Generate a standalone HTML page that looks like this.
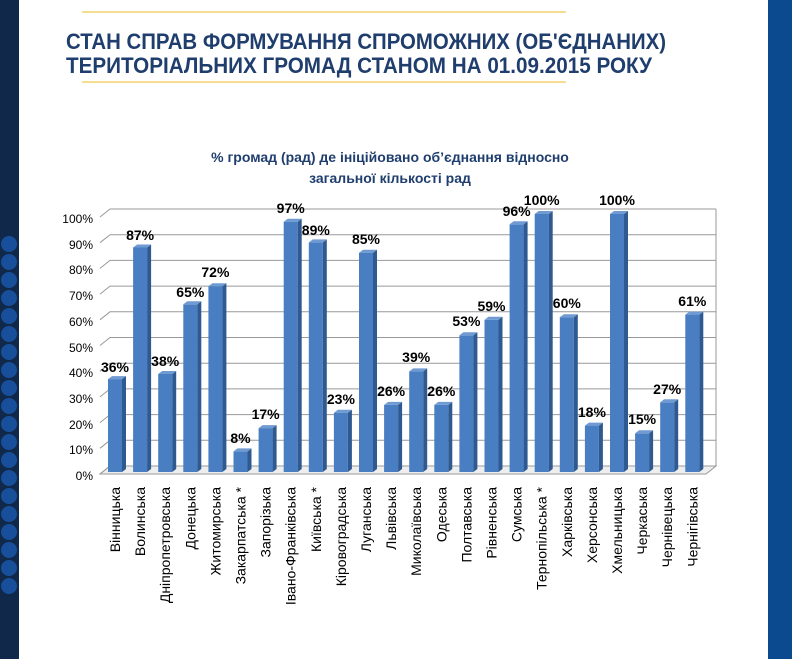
<!DOCTYPE html>
<html><head><meta charset="utf-8"><style>
html,body{margin:0;padding:0;background:#fff}
svg{display:block}
</style></head><body>
<svg width="792" height="659" viewBox="0 0 792 659" xmlns="http://www.w3.org/2000/svg" font-family="'Liberation Sans', sans-serif">
<defs>
<clipPath id="lc"><rect x="0" y="0" width="19" height="659"/></clipPath>
</defs>
<rect width="792" height="659" fill="#fff"/>
<rect x="0" y="0" width="19" height="659" fill="#10284a"/>
<g clip-path="url(#lc)" fill="#1a56a8" opacity="0.85">
<circle cx="9" cy="244" r="8"/><circle cx="9" cy="262" r="8"/><circle cx="9" cy="280" r="8"/><circle cx="9" cy="298" r="8"/><circle cx="9" cy="316" r="8"/><circle cx="9" cy="334" r="8"/><circle cx="9" cy="352" r="8"/><circle cx="9" cy="370" r="8"/><circle cx="9" cy="388" r="8"/><circle cx="9" cy="406" r="8"/><circle cx="9" cy="424" r="8"/><circle cx="9" cy="442" r="8"/><circle cx="9" cy="460" r="8"/><circle cx="9" cy="478" r="8"/><circle cx="9" cy="496" r="8"/><circle cx="9" cy="514" r="8"/><circle cx="9" cy="532" r="8"/><circle cx="9" cy="550" r="8"/><circle cx="9" cy="568" r="8"/><circle cx="9" cy="586" r="8"/>
</g>
<rect x="768" y="0" width="24" height="659" fill="#0b4a8e"/>
<line x1="82" y1="12" x2="566" y2="12" stroke="#f2d36b" stroke-width="1.5"/>
<line x1="82" y1="82" x2="566" y2="82" stroke="#f2d36b" stroke-width="1.5"/>
<g font-family="'Liberation Sans Narrow','Liberation Sans',sans-serif" font-weight="bold" font-size="22" fill="#1f3e6e">
<text x="66" y="49" textLength="600" lengthAdjust="spacingAndGlyphs">СТАН СПРАВ ФОРМУВАННЯ СПРОМОЖНИХ (ОБ'ЄДНАНИХ)</text>
<text x="66" y="73" textLength="586" lengthAdjust="spacingAndGlyphs">ТЕРИТОРІАЛЬНИХ ГРОМАД СТАНОМ НА 01.09.2015 РОКУ</text>
</g>
<g font-weight="bold" font-size="14" fill="#1f3e6e" text-anchor="middle">
<text x="390" y="162">% громад (рад) де ініційовано об’єднання  відносно</text>
<text x="390" y="183">загальної кількості рад</text>
</g>
<polygon points="100,474 706,474 716,466 110,466" fill="#eee" stroke="#999" stroke-width="1"/>
<g stroke="#999" stroke-width="1" fill="none">
<polyline points="100,474 110,466 716,466"/>
<polyline points="100,448.3 110,440.3 716,440.3"/>
<polyline points="100,422.6 110,414.6 716,414.6"/>
<polyline points="100,396.9 110,388.9 716,388.9"/>
<polyline points="100,371.2 110,363.2 716,363.2"/>
<polyline points="100,345.5 110,337.5 716,337.5"/>
<polyline points="100,319.8 110,311.8 716,311.8"/>
<polyline points="100,294.1 110,286.1 716,286.1"/>
<polyline points="100,268.4 110,260.4 716,260.4"/>
<polyline points="100,242.7 110,234.7 716,234.7"/>
<polyline points="100,217 110,209 716,209"/>
<line x1="716" y1="209" x2="716" y2="466"/>
</g>
<g font-size="12" fill="#000" text-anchor="end">
<text x="93" y="480">0%</text><text x="93" y="454">10%</text><text x="93" y="429">20%</text><text x="93" y="403">30%</text><text x="93" y="377">40%</text><text x="93" y="352">50%</text><text x="93" y="326">60%</text><text x="93" y="300">70%</text><text x="93" y="274">80%</text><text x="93" y="249">90%</text><text x="93" y="223">100%</text>
</g>
<g id="bars" font-weight="bold" font-size="14" text-anchor="middle">
<g transform="translate(108,0)"><rect x="0" y="379.1" width="14" height="92.9" fill="#4a7ec2"/><polygon points="14,379.1 18,376.1 18,469 14,472" fill="#2f5a91"/><polygon points="0,379.1 4,376.1 18,376.1 14,379.1" fill="#6f9ad2"/><text x="7" y="372">36%</text></g>
<g transform="translate(133.1,0)"><rect x="0" y="247.5" width="14" height="224.5" fill="#4a7ec2"/><polygon points="14,247.5 18,244.5 18,469 14,472" fill="#2f5a91"/><polygon points="0,247.5 4,244.5 18,244.5 14,247.5" fill="#6f9ad2"/><text x="7" y="240">87%</text></g>
<g transform="translate(158.2,0)"><rect x="0" y="374" width="14" height="98" fill="#4a7ec2"/><polygon points="14,374 18,371 18,469 14,472" fill="#2f5a91"/><polygon points="0,374 4,371 18,371 14,374" fill="#6f9ad2"/><text x="7" y="366">38%</text></g>
<g transform="translate(183.3,0)"><rect x="0" y="304.3" width="14" height="167.7" fill="#4a7ec2"/><polygon points="14,304.3 18,301.3 18,469 14,472" fill="#2f5a91"/><polygon points="0,304.3 4,301.3 18,301.3 14,304.3" fill="#6f9ad2"/><text x="7" y="297">65%</text></g>
<g transform="translate(208.4,0)"><rect x="0" y="286.2" width="14" height="185.8" fill="#4a7ec2"/><polygon points="14,286.2 18,283.2 18,469 14,472" fill="#2f5a91"/><polygon points="0,286.2 4,283.2 18,283.2 14,286.2" fill="#6f9ad2"/><text x="7" y="277">72%</text></g>
<g transform="translate(233.5,0)"><rect x="0" y="451.4" width="14" height="20.6" fill="#4a7ec2"/><polygon points="14,451.4 18,448.4 18,469 14,472" fill="#2f5a91"/><polygon points="0,451.4 4,448.4 18,448.4 14,451.4" fill="#6f9ad2"/><text x="7" y="443">8%</text></g>
<g transform="translate(258.6,0)"><rect x="0" y="428.1" width="14" height="43.9" fill="#4a7ec2"/><polygon points="14,428.1 18,425.1 18,469 14,472" fill="#2f5a91"/><polygon points="0,428.1 4,425.1 18,425.1 14,428.1" fill="#6f9ad2"/><text x="7" y="419">17%</text></g>
<g transform="translate(283.7,0)"><rect x="0" y="221.7" width="14" height="250.3" fill="#4a7ec2"/><polygon points="14,221.7 18,218.7 18,469 14,472" fill="#2f5a91"/><polygon points="0,221.7 4,218.7 18,218.7 14,221.7" fill="#6f9ad2"/><text x="7" y="213">97%</text></g>
<g transform="translate(308.8,0)"><rect x="0" y="242.4" width="14" height="229.6" fill="#4a7ec2"/><polygon points="14,242.4 18,239.4 18,469 14,472" fill="#2f5a91"/><polygon points="0,242.4 4,239.4 18,239.4 14,242.4" fill="#6f9ad2"/><text x="7" y="235">89%</text></g>
<g transform="translate(333.9,0)"><rect x="0" y="412.7" width="14" height="59.3" fill="#4a7ec2"/><polygon points="14,412.7 18,409.7 18,469 14,472" fill="#2f5a91"/><polygon points="0,412.7 4,409.7 18,409.7 14,412.7" fill="#6f9ad2"/><text x="7" y="404">23%</text></g>
<g transform="translate(359,0)"><rect x="0" y="252.7" width="14" height="219.3" fill="#4a7ec2"/><polygon points="14,252.7 18,249.7 18,469 14,472" fill="#2f5a91"/><polygon points="0,252.7 4,249.7 18,249.7 14,252.7" fill="#6f9ad2"/><text x="7" y="244">85%</text></g>
<g transform="translate(384.1,0)"><rect x="0" y="404.9" width="14" height="67.1" fill="#4a7ec2"/><polygon points="14,404.9 18,401.9 18,469 14,472" fill="#2f5a91"/><polygon points="0,404.9 4,401.9 18,401.9 14,404.9" fill="#6f9ad2"/><text x="7" y="396">26%</text></g>
<g transform="translate(409.2,0)"><rect x="0" y="371.4" width="14" height="100.6" fill="#4a7ec2"/><polygon points="14,371.4 18,368.4 18,469 14,472" fill="#2f5a91"/><polygon points="0,371.4 4,368.4 18,368.4 14,371.4" fill="#6f9ad2"/><text x="7" y="362">39%</text></g>
<g transform="translate(434.3,0)"><rect x="0" y="404.9" width="14" height="67.1" fill="#4a7ec2"/><polygon points="14,404.9 18,401.9 18,469 14,472" fill="#2f5a91"/><polygon points="0,404.9 4,401.9 18,401.9 14,404.9" fill="#6f9ad2"/><text x="7" y="396">26%</text></g>
<g transform="translate(459.4,0)"><rect x="0" y="335.3" width="14" height="136.7" fill="#4a7ec2"/><polygon points="14,335.3 18,332.3 18,469 14,472" fill="#2f5a91"/><polygon points="0,335.3 4,332.3 18,332.3 14,335.3" fill="#6f9ad2"/><text x="7" y="326">53%</text></g>
<g transform="translate(484.5,0)"><rect x="0" y="319.8" width="14" height="152.2" fill="#4a7ec2"/><polygon points="14,319.8 18,316.8 18,469 14,472" fill="#2f5a91"/><polygon points="0,319.8 4,316.8 18,316.8 14,319.8" fill="#6f9ad2"/><text x="7" y="311">59%</text></g>
<g transform="translate(509.6,0)"><rect x="0" y="224.3" width="14" height="247.7" fill="#4a7ec2"/><polygon points="14,224.3 18,221.3 18,469 14,472" fill="#2f5a91"/><polygon points="0,224.3 4,221.3 18,221.3 14,224.3" fill="#6f9ad2"/><text x="7" y="216">96%</text></g>
<g transform="translate(534.7,0)"><rect x="0" y="214" width="14" height="258" fill="#4a7ec2"/><polygon points="14,214 18,211 18,469 14,472" fill="#2f5a91"/><polygon points="0,214 4,211 18,211 14,214" fill="#6f9ad2"/><text x="7" y="205">100%</text></g>
<g transform="translate(559.8,0)"><rect x="0" y="317.2" width="14" height="154.8" fill="#4a7ec2"/><polygon points="14,317.2 18,314.2 18,469 14,472" fill="#2f5a91"/><polygon points="0,317.2 4,314.2 18,314.2 14,317.2" fill="#6f9ad2"/><text x="7" y="308">60%</text></g>
<g transform="translate(584.9,0)"><rect x="0" y="425.6" width="14" height="46.4" fill="#4a7ec2"/><polygon points="14,425.6 18,422.6 18,469 14,472" fill="#2f5a91"/><polygon points="0,425.6 4,422.6 18,422.6 14,425.6" fill="#6f9ad2"/><text x="7" y="417">18%</text></g>
<g transform="translate(610,0)"><rect x="0" y="214" width="14" height="258" fill="#4a7ec2"/><polygon points="14,214 18,211 18,469 14,472" fill="#2f5a91"/><polygon points="0,214 4,211 18,211 14,214" fill="#6f9ad2"/><text x="7" y="205">100%</text></g>
<g transform="translate(635.1,0)"><rect x="0" y="433.3" width="14" height="38.7" fill="#4a7ec2"/><polygon points="14,433.3 18,430.3 18,469 14,472" fill="#2f5a91"/><polygon points="0,433.3 4,430.3 18,430.3 14,433.3" fill="#6f9ad2"/><text x="7" y="424">15%</text></g>
<g transform="translate(660.2,0)"><rect x="0" y="402.3" width="14" height="69.7" fill="#4a7ec2"/><polygon points="14,402.3 18,399.3 18,469 14,472" fill="#2f5a91"/><polygon points="0,402.3 4,399.3 18,399.3 14,402.3" fill="#6f9ad2"/><text x="7" y="394">27%</text></g>
<g transform="translate(685.3,0)"><rect x="0" y="314.6" width="14" height="157.4" fill="#4a7ec2"/><polygon points="14,314.6 18,311.6 18,469 14,472" fill="#2f5a91"/><polygon points="0,314.6 4,311.6 18,311.6 14,314.6" fill="#6f9ad2"/><text x="7" y="306">61%</text></g>
</g>
<g font-size="14" fill="#000" text-anchor="end">
<text transform="translate(120,487) rotate(-90)">Вінницька</text>
<text transform="translate(145.1,487) rotate(-90)">Волинська</text>
<text transform="translate(170.2,487) rotate(-90)">Дніпропетровська</text>
<text transform="translate(195.3,487) rotate(-90)">Донецька</text>
<text transform="translate(220.4,487) rotate(-90)">Житомирська</text>
<text transform="translate(245.5,487) rotate(-90)">Закарпатська *</text>
<text transform="translate(270.6,487) rotate(-90)">Запорізька</text>
<text transform="translate(295.7,487) rotate(-90)">Івано-Франківська</text>
<text transform="translate(320.8,487) rotate(-90)">Київська *</text>
<text transform="translate(345.9,487) rotate(-90)">Кіровоградська</text>
<text transform="translate(371,487) rotate(-90)">Луганська</text>
<text transform="translate(396.1,487) rotate(-90)">Львівська</text>
<text transform="translate(421.2,487) rotate(-90)">Миколаївська</text>
<text transform="translate(446.3,487) rotate(-90)">Одеська</text>
<text transform="translate(471.4,487) rotate(-90)">Полтавська</text>
<text transform="translate(496.5,487) rotate(-90)">Рівненська</text>
<text transform="translate(521.6,487) rotate(-90)">Сумська</text>
<text transform="translate(546.7,487) rotate(-90)">Тернопільська *</text>
<text transform="translate(571.8,487) rotate(-90)">Харківська</text>
<text transform="translate(596.9,487) rotate(-90)">Херсонська</text>
<text transform="translate(622,487) rotate(-90)">Хмельницька</text>
<text transform="translate(647.1,487) rotate(-90)">Черкаська</text>
<text transform="translate(672.2,487) rotate(-90)">Чернівецька</text>
<text transform="translate(697.3,487) rotate(-90)">Чернігівська</text>
</g>
</svg>
</body></html>
